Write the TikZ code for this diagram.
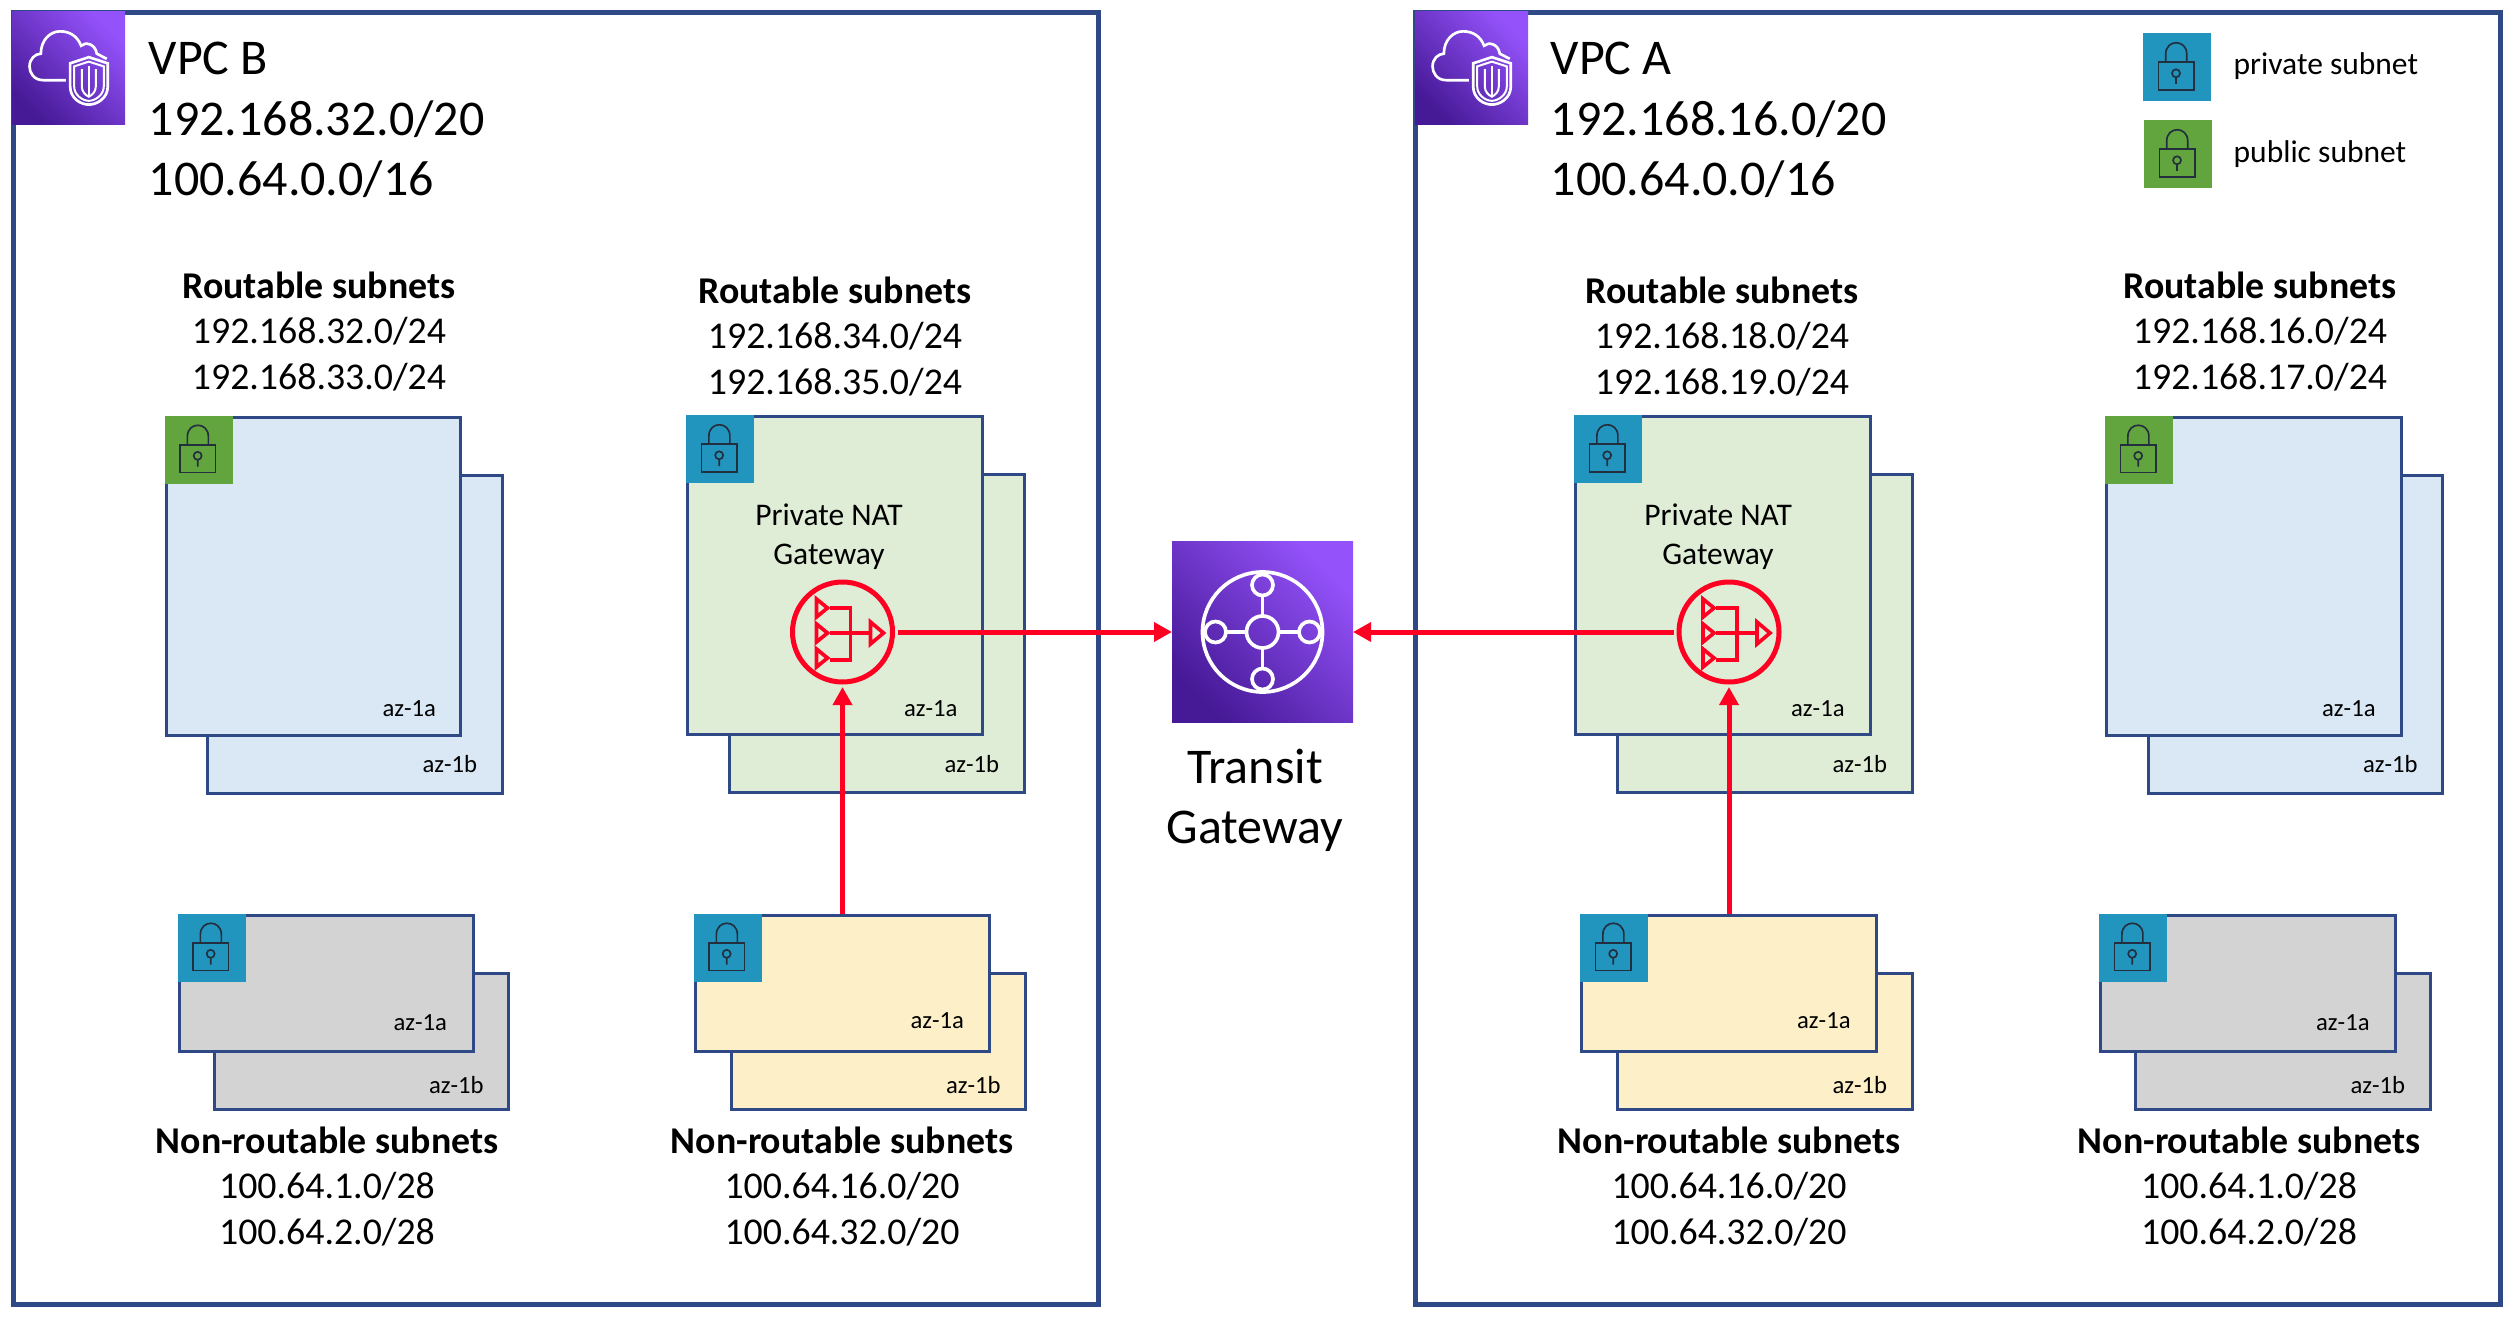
\documentclass[tikz,border=0pt]{standalone}
\usepackage{fontspec}
\setmainfont{Carlito}
\usepackage{tikz}
\usetikzlibrary{arrows.meta}
\usetikzlibrary{calc}
\definecolor{framecol}{RGB}{47,73,134}
\definecolor{bluefill}{RGB}{218,231,244}
\definecolor{greenfill}{RGB}{223,237,214}
\definecolor{grayfill}{RGB}{211,211,211}
\definecolor{yellowfill}{RGB}{253,240,200}
\definecolor{privcol}{RGB}{34,149,190}
\definecolor{pubcol}{RGB}{98,165,63}
\definecolor{lockcol}{RGB}{35,47,62}
\definecolor{natred}{RGB}{255,0,34}
\definecolor{purplelo}{RGB}{70,25,150}
\definecolor{purplehi}{RGB}{148,82,250}

\begin{document}
\begin{tikzpicture}[x=0.3pt,y=-0.3pt,
    vpcframe/.style={draw=framecol,line width=1.5pt,inner sep=0pt,minimum width=#1,minimum height=387.6pt},
    subnetbox/.style={draw=framecol,line width=0.9pt,inner sep=0pt},
    badgebox/.style={inner sep=0pt,outer sep=0pt,minimum size=20.4pt,anchor=north west},
    purplebox/.style={inner sep=0pt,outer sep=0pt,minimum size=#1,left color=purplelo,right color=purplehi,shading angle=135},
    vpctext/.style={font=\fontsize{15}{18}\selectfont,align=left,anchor=base west,inner sep=0pt},
    nettext/.style={font=\fontsize{11.35}{13.6}\selectfont,align=center,anchor=base,inner sep=0pt},
    azlabel/.style={font=\fontsize{7.4}{9}\selectfont,anchor=base,inner sep=0pt},
    smalltext/.style={font=\fontsize{9.45}{11.5}\selectfont,inner sep=0pt,anchor=base},
    natring/.style={circle,draw=natred,line width=1.5pt,minimum size=30pt,inner sep=0pt,outer sep=1.5pt},
    redarrow/.style={draw=natred,line width=1.5pt,-{Triangle[length=5.4pt,width=5.6pt]}},
    lockicon/.pic={
      \draw[lockcol,line width=0.5pt] (-18.7,-4.7) rectangle (16.7,23);
      \draw[lockcol,line width=0.5pt] (-11.3,-4.7) -- (-11.3,-13) .. controls (-11.3,-28) and (9.7,-28) .. (9.7,-13) -- (9.7,-4.7);
      \draw[lockcol,line width=0.5pt] (-1,6.3) circle[radius=4] (-1,10.3) -- (-1,17);
    },
    vpcicon/.pic={
      \begin{scope}[xscale=0.333,yscale=0.344,shift={(-205,-198)},white,line width=0.8pt]
        \draw (197,232) -- (130,232) .. controls (100,232) and (88,210) .. (88,192) .. controls (88,170) and (105,155) .. (122,155) .. controls (122,115) and (150,90) .. (180,90) .. controls (210,90) and (232,105) .. (243,132) .. controls (255,120) and (285,125) .. (290,155) -- (320,170);
        \draw (266,165) -- (323,183) -- (323,250) .. controls (323,285) and (290,303) .. (266,303) .. controls (242,303) and (210,285) .. (210,250) -- (210,183) -- cycle;
        \draw[line width=0.6pt] (266,178) -- (311,192) -- (311,250) .. controls (311,275) and (285,292) .. (266,292) .. controls (247,292) and (222,275) .. (222,250) -- (222,192) -- cycle;
        \draw[line width=0.6pt] (245,200) -- (245,250) .. controls (245,265) and (255,275) .. (266,280) .. controls (277,275) and (287,265) .. (287,250) -- (287,200);
        \draw[line width=0.6pt] (266,190) -- (266,280);
      \end{scope}
    },
    tgwicon/.pic={
      \begin{scope}[white,line width=1.1pt]
        \draw (0,0) circle[radius=60] (0,0) circle[radius=16];
        \foreach \ang in {0,90,180,270} {
          \draw (\ang:47) circle[radius=10.5];
          \draw (\ang:16) -- (\ang:36.5);
        }
      \end{scope}
    },
    naticon/.pic={
      \begin{scope}[natred,line width=1.1pt]
        \draw (-26,-33) -- (-15,-24) -- (-26,-15) -- cycle;
        \draw (-26,-8) -- (-15,1) -- (-26,10) -- cycle;
        \draw (-26,17) -- (-15,26) -- (-26,35) -- cycle;
        \draw (-13,-24) -- (8,-24) -- (8,28) -- (-13,28);
        \draw (-13,1) -- (28,1);
        \draw (28,-10) -- (41,1) -- (28,12) -- cycle;
      \end{scope}
    }]
  \useasboundingbox (0,0) rectangle (2512,1323);

  \node[vpcframe=325.5pt] (vpcb) at (555.5,658) {};
  \node[vpcframe=325.5pt] (vpca) at (1957.5,658) {};

  % name / centre / height / back offset / az offsets / fill / badge
  \foreach \name/\cx/\cy/\boxht/\dx/\ax/\ay/\by/\col/\bcol in {
      rtbb/313.5/576/95.4pt/41.5/-53/-20/-22/bluefill/pubcol,
      rtbg/835/575.5/95.4pt/42/-53/-20/-22/greenfill/privcol,
      rtag/1723/575.5/95.4pt/42/-54/-20/-22/greenfill/privcol,
      rtaa/2254/576/95.4pt/41.5/-54/-20/-22/bluefill/pubcol,
      nrbg/326.5/983/40.8pt/35/-55/-22/-17/grayfill/privcol,
      nrby/842.5/983/40.8pt/36/-54/-24/-17/yellowfill/privcol,
      nray/1729/983/40.8pt/36/-54/-24/-17/yellowfill/privcol,
      nrag/2248/983/40.8pt/35/-54/-22/-17/grayfill/privcol} {
    \node[subnetbox,fill=\col,minimum width=88.4pt,minimum height=\boxht] (\name-back) at (\cx+\dx,\cy+58) {};
    \node[subnetbox,fill=\col,minimum width=88.4pt,minimum height=\boxht] (\name-front) at (\cx,\cy) {};
    \node[badgebox,fill=\bcol] (\name-badge) at (\name-front.north west) {};
    \pic at (\name-badge) {lockicon};
    \node[azlabel] (\name-aza) at ($(\name-front.south east)+(\ax,\ay)$) {az-1a};
    \node[azlabel] (\name-azb) at ($(\name-back.south east)+(-54,\by)$) {az-1b};
  }

  \node[purplebox=33.9pt] (iconb) at (68.5,68.5) {};
  \pic at (iconb) {vpcicon};
  \node[purplebox=33.9pt] (icona) at (1471.5,68.5) {};
  \pic at (icona) {vpcicon};
  \node[vpctext] (titleb) at (148,195) {VPC B\\192.168.32.0/20\\100.64.0.0/16};
  \node[vpctext] (titlea) at (1550,195) {VPC A\\192.168.16.0/20\\100.64.0.0/16};

  \node[badgebox,fill=privcol] (legpriv) at (2143,33) {};
  \pic at (legpriv) {lockicon};
  \node[badgebox,fill=pubcol] (legpub) at (2144,120) {};
  \pic at (legpub) {lockicon};
  \node[smalltext,anchor=base west] (legprivtext) at (2233,75) {private subnet};
  \node[smalltext,anchor=base west] (legpubtext) at (2233,163) {public subnet};

  \node[nettext] (netbb) at (319,389) {\textbf{Routable subnets}\\192.168.32.0/24\\192.168.33.0/24};
  \node[nettext] (netbg) at (835,394) {\textbf{Routable subnets}\\192.168.34.0/24\\192.168.35.0/24};
  \node[nettext] (netag) at (1722,394) {\textbf{Routable subnets}\\192.168.18.0/24\\192.168.19.0/24};
  \node[nettext] (netaa) at (2260,389) {\textbf{Routable subnets}\\192.168.16.0/24\\192.168.17.0/24};
  \node[nettext] (nonbg) at (327,1244) {\textbf{Non-routable subnets}\\100.64.1.0/28\\100.64.2.0/28};
  \node[nettext] (nonby) at (842,1244) {\textbf{Non-routable subnets}\\100.64.16.0/20\\100.64.32.0/20};
  \node[nettext] (nonay) at (1729,1244) {\textbf{Non-routable subnets}\\100.64.16.0/20\\100.64.32.0/20};
  \node[nettext] (nonag) at (2249,1244) {\textbf{Non-routable subnets}\\100.64.1.0/28\\100.64.2.0/28};

  \node[smalltext,align=center] (natbtext) at (829,564) {Private NAT\\Gateway};
  \node[smalltext,align=center] (natatext) at (1718,564) {Private NAT\\Gateway};
  \node[natring] (natb) at (842.5,632) {};
  \pic at (natb) {naticon};
  \node[natring] (nata) at (1729,632) {};
  \pic at (nata) {naticon};

  \node[purplebox=54.3pt] (tgw) at (1262.5,632) {};
  \pic at (tgw) {tgwicon};
  \node[vpctext,align=center,anchor=base] (tgwtext) at (1255,843) {Transit\\Gateway};

  \draw[redarrow] (natb) -- (tgw);
  \draw[redarrow] (nata) -- (tgw);
  \draw[redarrow] (nrby-front) -- (natb);
  \draw[redarrow] (nray-front) -- (nata);
\end{tikzpicture}
\end{document}
